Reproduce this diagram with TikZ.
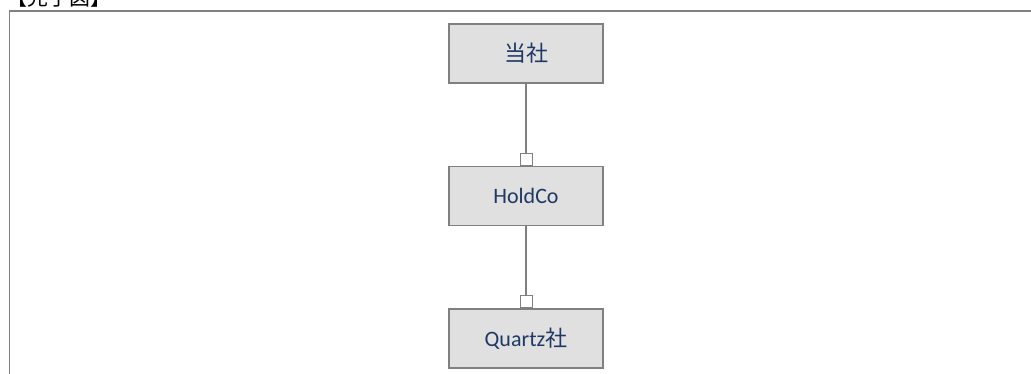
\documentclass[tikz,border=0pt]{standalone}
\usepackage{fontspec}
\setmainfont{Carlito}
\newfontfamily\cjk{Noto Sans CJK JP}
\definecolor{boxfill}{HTML}{E0E0E0}
\definecolor{boxline}{HTML}{808080}
\definecolor{txt}{HTML}{1F3864}
\begin{document}
\begin{tikzpicture}[x=1pt,y=1pt,
  entity/.style={draw=boxline,line width=1.3pt,fill=boxfill,minimum width=154pt,minimum height=59pt,inner sep=0pt,text=txt,font=\fontsize{22}{26}\selectfont},
  conn/.style={draw=boxline,line width=1.2pt},
  tab/.style={draw=boxline,line width=1pt,fill=white,minimum width=12pt,minimum height=12pt,inner sep=0pt}]
\useasboundingbox (0,0) rectangle (1031,-374);
\draw[draw=boxline,line width=1.6pt] (9.5,-374) -- (9.5,-11) -- (1031,-11);
\node[anchor=base west,inner sep=0pt,font=\cjk\fontsize{21}{24}\selectfont] (title) at (6,-6) {【完了図】};
\node[entity] (a) at (526,-53.5) {\cjk 当社};
\node[entity] (b) at (526,-196) {HoldCo};
\node[entity] (c) at (526,-338.5) {Quartz{\cjk 社}};
\node[tab,anchor=south] (tb) at (b.north) {};
\node[tab,anchor=south] (tc) at (c.north) {};
\draw[conn] (a.south) -- (tb.north);
\draw[conn] (b.south) -- (tc.north);
\end{tikzpicture}
\end{document}
